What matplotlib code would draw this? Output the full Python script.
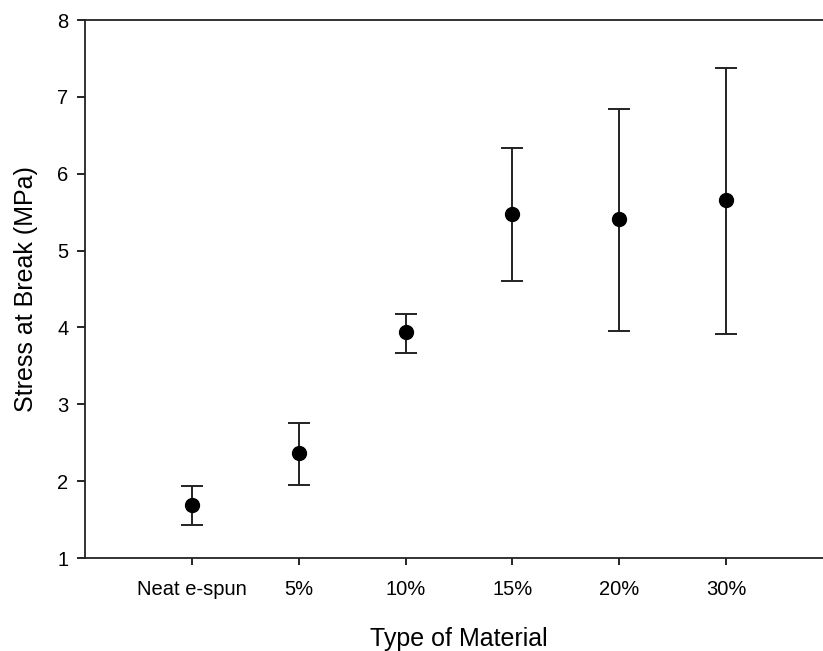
import matplotlib
matplotlib.use("Agg")
import matplotlib.pyplot as plt

categories = ["Neat e-spun", "5%", "10%", "15%", "20%", "30%"]
means = [1.69, 2.36, 3.94, 5.48, 5.41, 5.66]
upper = [1.94, 2.75, 4.17, 6.34, 6.84, 7.38]
lower = [1.43, 1.95, 3.67, 4.60, 3.96, 3.91]

plt.rcParams['font.family'] = ['Liberation Sans', 'DejaVu Sans']

fig = plt.figure(figsize=(8.23, 6.51), dpi=100)
ax = fig.add_axes([85/823, 1 - 558/651, 748/823, 538/651])

xs = list(range(1, len(categories) + 1))
err_lo = [m - l for m, l in zip(means, lower)]
err_hi = [u - m for m, u in zip(means, upper)]
ax.errorbar(xs, means, yerr=[err_lo, err_hi], fmt='o', color='black',
            ecolor='#222222', elinewidth=1.4, capsize=8, capthick=1.4,
            markersize=10, zorder=3)

ax.set_xlim(0, 7)
ax.set_ylim(1, 8)
ax.set_xticks(xs)
ax.set_xticklabels(categories)
ax.set_yticks(range(1, 9))
ax.tick_params(axis='y', direction='out', length=6, width=1.2, labelsize=14.5, pad=6)
ax.tick_params(axis='x', direction='out', length=5, width=1.2, labelsize=14.5, pad=11)
for s in ax.spines.values():
    s.set_linewidth(1.3)
    s.set_color('#222222')

ax.set_xlabel("Type of Material", fontsize=18, labelpad=20)
ax.set_ylabel("Stress at Break (MPa)", fontsize=18, labelpad=14)

fig.savefig("out.png", dpi=100)
